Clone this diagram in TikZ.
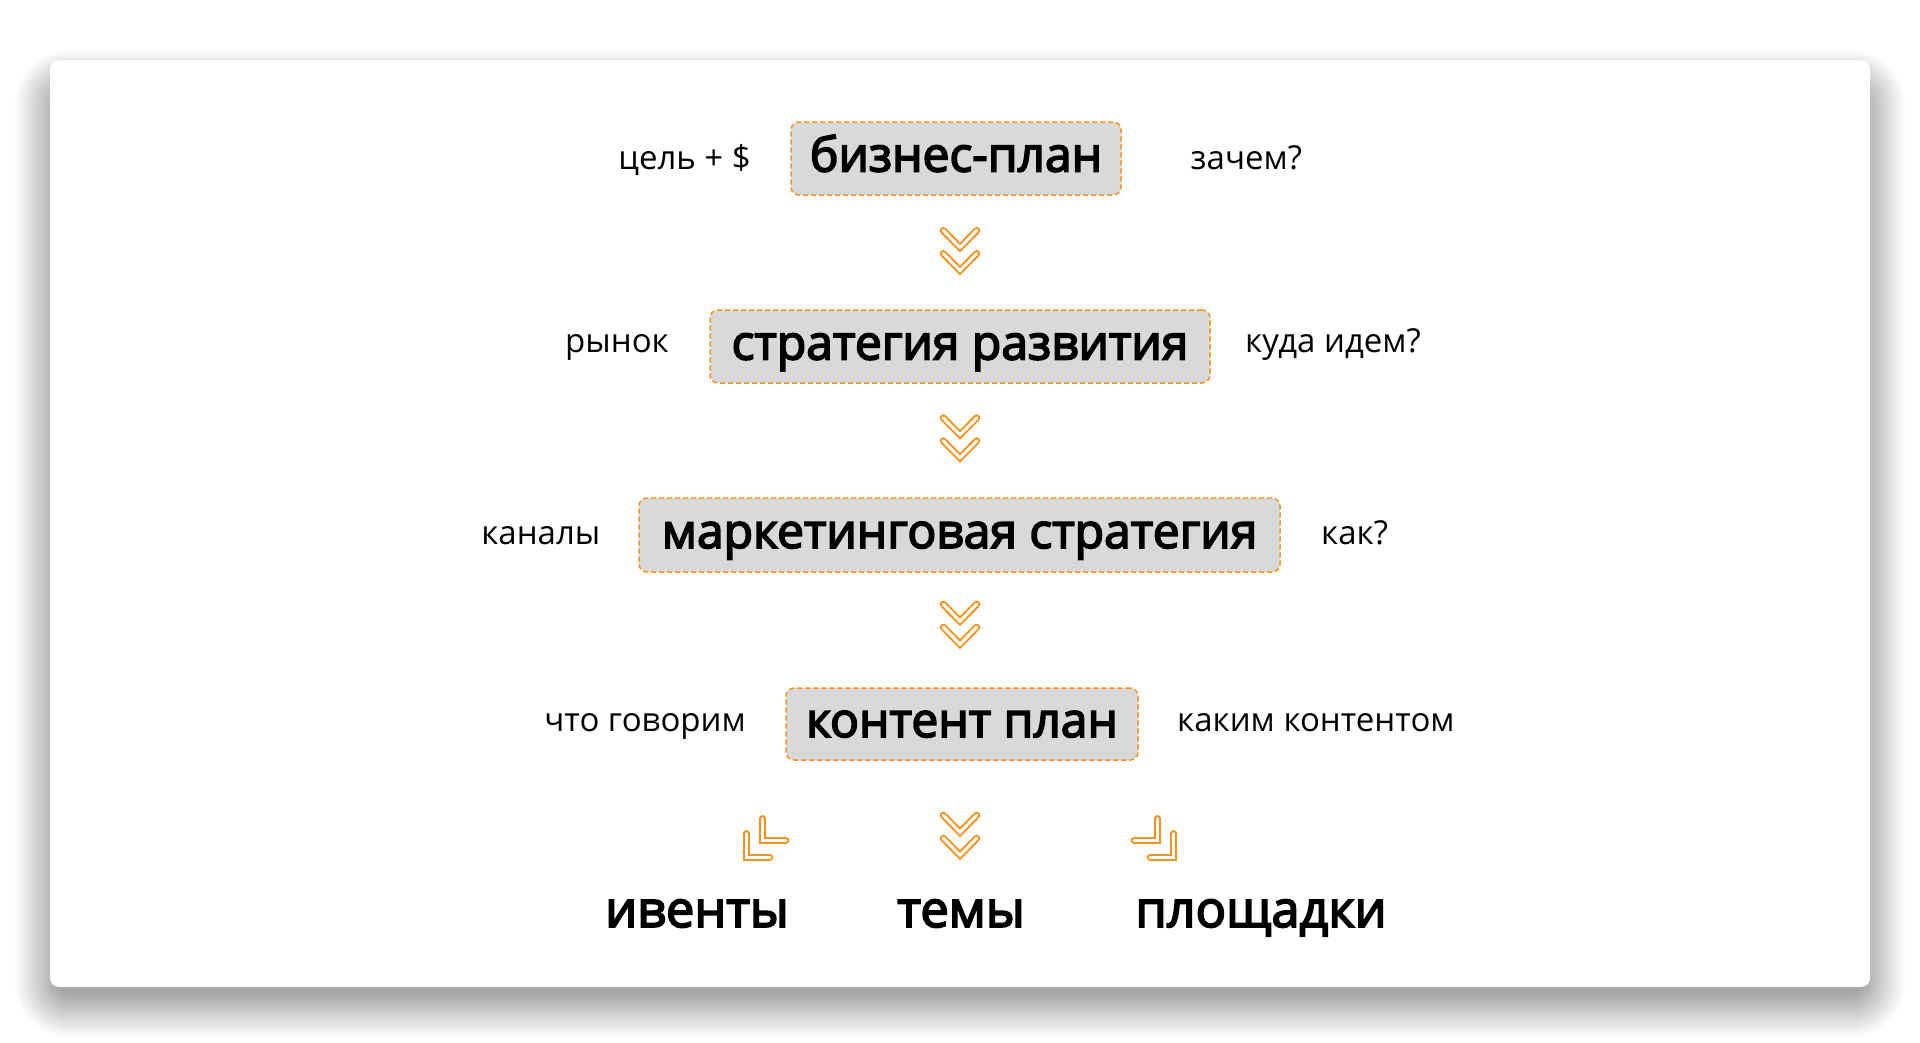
\documentclass[tikz,border=0pt]{standalone}
\usepackage{fontspec}
\setmainfont{Open Sans}
\newfontfamily\medfont{Open Sans}[FakeBold=3.5]
\definecolor{orng}{RGB}{247,146,30}
\definecolor{boxgray}{RGB}{217,217,217}
\tikzset{
  stagebox/.style={draw=orng, dash pattern=on 5pt off 3pt, line width=1.5pt,
    fill=boxgray, rounded corners=8pt, inner sep=0pt,
    text height=36pt, text depth=10pt,
    font=\medfont\fontsize{48}{54}\selectfont},
  sidelbl/.style={inner sep=0pt, font=\fontsize{33}{40}\selectfont},
  outlbl/.style={inner sep=0pt, anchor=base, font=\medfont\fontsize{50.5}{56}\selectfont},
  orngstroke/.style={draw=orng, line width=7pt, line cap=round, line join=miter},
  whitestroke/.style={draw=white, line width=3pt, line cap=round, line join=miter},
  dchev/.pic={
    \draw[orngstroke] (-16.8,3.5) -- (0,20.5) -- (16.8,3.5);
    \draw[whitestroke] (-16.8,3.5) -- (0,20.5) -- (16.8,3.5);
    \draw[orngstroke] (-16.8,26.5) -- (0,43.5) -- (16.8,26.5);
    \draw[whitestroke] (-16.8,26.5) -- (0,43.5) -- (16.8,26.5);
  },
  lchev/.pic={
    \draw[orngstroke] (0,18.5) -- (0,42) -- (23.5,42);
    \draw[whitestroke] (0,18.5) -- (0,42) -- (23.5,42);
    \draw[orngstroke] (16.4,3.5) -- (16.4,25) -- (39.5,25);
    \draw[whitestroke] (16.4,3.5) -- (16.4,25) -- (39.5,25);
  },
  rchev/.pic={
    \draw[orngstroke] (0,18.5) -- (0,42) -- (-23.5,42);
    \draw[whitestroke] (0,18.5) -- (0,42) -- (-23.5,42);
    \draw[orngstroke] (-16.4,3.5) -- (-16.4,25) -- (-39.5,25);
    \draw[whitestroke] (-16.4,3.5) -- (-16.4,25) -- (-39.5,25);
  }
}
\begin{document}
\begin{tikzpicture}[x=1pt,y=-1pt]
\useasboundingbox (0,0) rectangle (1920,1042);
\fill[white] (0,0) rectangle (1920,1042);
% soft shadow of the card (stacked translucent layers)
\foreach \k in {1,...,30}{
  \fill[black, opacity=0.01, rounded corners={10pt+1.5pt*\k}]
    ({60-1.5*\k},{95-1.5*\k}) rectangle ({1860+1.5*\k},{992+1.5*\k});
}
% card
\fill[white, rounded corners=9pt] (50,60) rectangle (1870,987);

% stage boxes
\node[stagebox, minimum width=330pt, minimum height=73pt] (b1) at (956,158.5) {бизнес-план};
\node[stagebox, minimum width=500pt, minimum height=73pt] (b2) at (960,346.5) {стратегия развития};
\node[stagebox, minimum width=641pt, minimum height=74pt] (b3) at (959.5,535) {маркетинговая стратегия};
\node[stagebox, minimum width=352pt, minimum height=72pt] (b4) at (962,724) {контент план};

% side labels
\node[sidelbl, anchor=base east] (l1) at (751,169.5) {цель + \$};
\node[sidelbl, anchor=base west] (r1) at (1190.5,169.5) {зачем?};
\node[sidelbl, anchor=base east] (l2) at (669,352.7) {рынок};
\node[sidelbl, anchor=base west] (r2) at (1245,352.7) {куда идем?};
\node[sidelbl, anchor=base east] (l3) at (600.5,544.5) {каналы};
\node[sidelbl, anchor=base west] (r3) at (1321,544.5) {как?};
\node[sidelbl, anchor=base east] (l4) at (746,731.5) {что говорим};
\node[sidelbl, anchor=base west] (r4) at (1177,731.5) {каким контентом};

% outcome labels
\node[outlbl] (o1) at (697,927) {ивенты};
\node[outlbl] (o2) at (961,927) {темы};
\node[outlbl] (o3) at (1261,927) {площадки};

% chevrons
\pic at (960,227) {dchev};
\pic at (960,414.3) {dchev};
\pic at (960,600.7) {dchev};
\pic at (960,811.7) {dchev};
\pic at (746.3,815) {lchev};
\pic at (1173.7,815) {rchev};
\end{tikzpicture}
\end{document}
